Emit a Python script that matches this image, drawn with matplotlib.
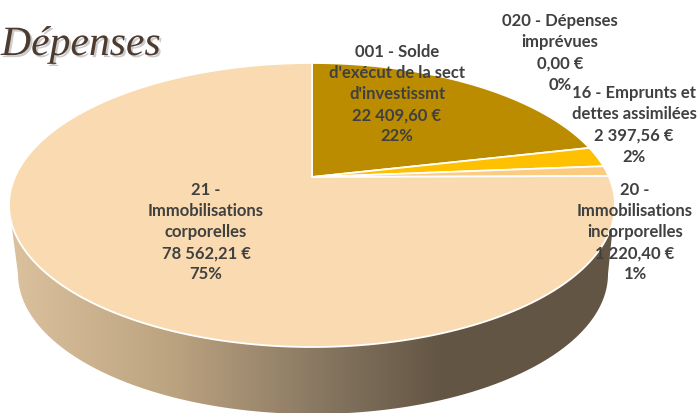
import matplotlib
matplotlib.use('Agg')
import matplotlib.pyplot as plt
import matplotlib.patheffects as pe
from matplotlib.patches import Polygon
from matplotlib.colors import LinearSegmentedColormap
import numpy as np

categories = ["001 - Solde\nd'exécut de la sect\nd'investissmt", "020 - Dépenses\nimprévues",
              "16 - Emprunts et\ndettes assimilées", "20 -\nImmobilisations\nincorporelles",
              "21 -\nImmobilisations\ncorporelles"]
values = [22409.60, 0.00, 2397.56, 1220.40, 78562.21]
value_labels = ["22 409,60 €", "0,00 €", "2 397,56 €", "1 220,40 €", "78 562,21 €"]
percents = ["22%", "0%", "2%", "1%", "75%"]
colors = ['#BC8C00', '#FFC000', '#FFC000', '#FBCB80', '#FADBB1']
label_pos = [(397, 94), (560, 53), (634, 125), (635, 232), (206, 232)]

# ellipse du dessus, vue en perspective
cx, cy, rx, ry = 312, 206, 303, 142
tilt = 0.197
# ellipse du bas
cx2, cy2, rx2, ry2 = 313, 275, 295, 140


def project(theta):
    u = np.sin(theta)
    v = np.cos(theta)
    d = 1 + tilt * v
    u2 = u * np.sqrt(1 - tilt ** 2) / d
    v2 = (v + tilt) / d
    return cx + rx * u2, cy - ry * v2


fig = plt.figure(figsize=(7, 4.14), dpi=100)
ax = fig.add_axes([0, 0, 1, 1])

# paroi du camembert
t = np.linspace(0, np.pi, 200)
wall = np.column_stack([
    np.r_[cx + rx * np.cos(t), cx2 + rx2 * np.cos(t[::-1])],
    np.r_[cy + ry * np.sin(t), cy2 + ry2 * np.sin(t[::-1])],
])
wall_patch = Polygon(wall, closed=True, facecolor='none', edgecolor='none')
ax.add_patch(wall_patch)
cmap = LinearSegmentedColormap.from_list('wall', [(0, '#DBC19D'), (0.27, '#BCA380'), (0.56, '#7F705C'),
                                                  (0.72, '#635543'), (1, '#635543')])
grad = np.linspace(0, 1, 256).reshape(1, -1)
im = ax.imshow(grad, extent=[10, 612, 414, 200], cmap=cmap, aspect='auto', zorder=1)
im.set_clip_path(wall_patch)
ax.set_xlim(0, 700)
ax.set_ylim(414, 0)
ax.axis('off')

# secteurs
apex = (cx, cy - ry * tilt)
fractions = np.array(values) / sum(values)
start = 0
for val, frac, col in zip(values, fractions, colors):
    if val == 0:
        continue
    th = 2 * np.pi * np.linspace(start, start + frac, 200)
    xs, ys = project(th)
    pts = np.column_stack([np.r_[apex[0], xs], np.r_[apex[1], ys]])
    ax.add_patch(Polygon(pts, closed=True, facecolor=col, edgecolor='white',
                         linewidth=1.3, joinstyle='round', zorder=2))
    start += frac

# étiquettes
for cat, vl, pc, (lx, ly) in zip(categories, value_labels, percents, label_pos):
    ax.text(lx, ly, cat + "\n" + vl + "\n" + pc, ha='center', va='center', color='#404040',
            family='Lato', fontweight='bold', fontsize=12, linespacing=1.4, zorder=3)

title = ax.text(1, 56, "Dépenses", family='Liberation Serif', style='italic', fontsize=30,
                color='#4E3B30', ha='left', va='baseline', zorder=3)
title.set_path_effects([pe.withSimplePatchShadow(offset=(1.5, -1.5), shadow_rgbFace='#999999', alpha=0.5)])

fig.savefig('out.png', dpi=100)
